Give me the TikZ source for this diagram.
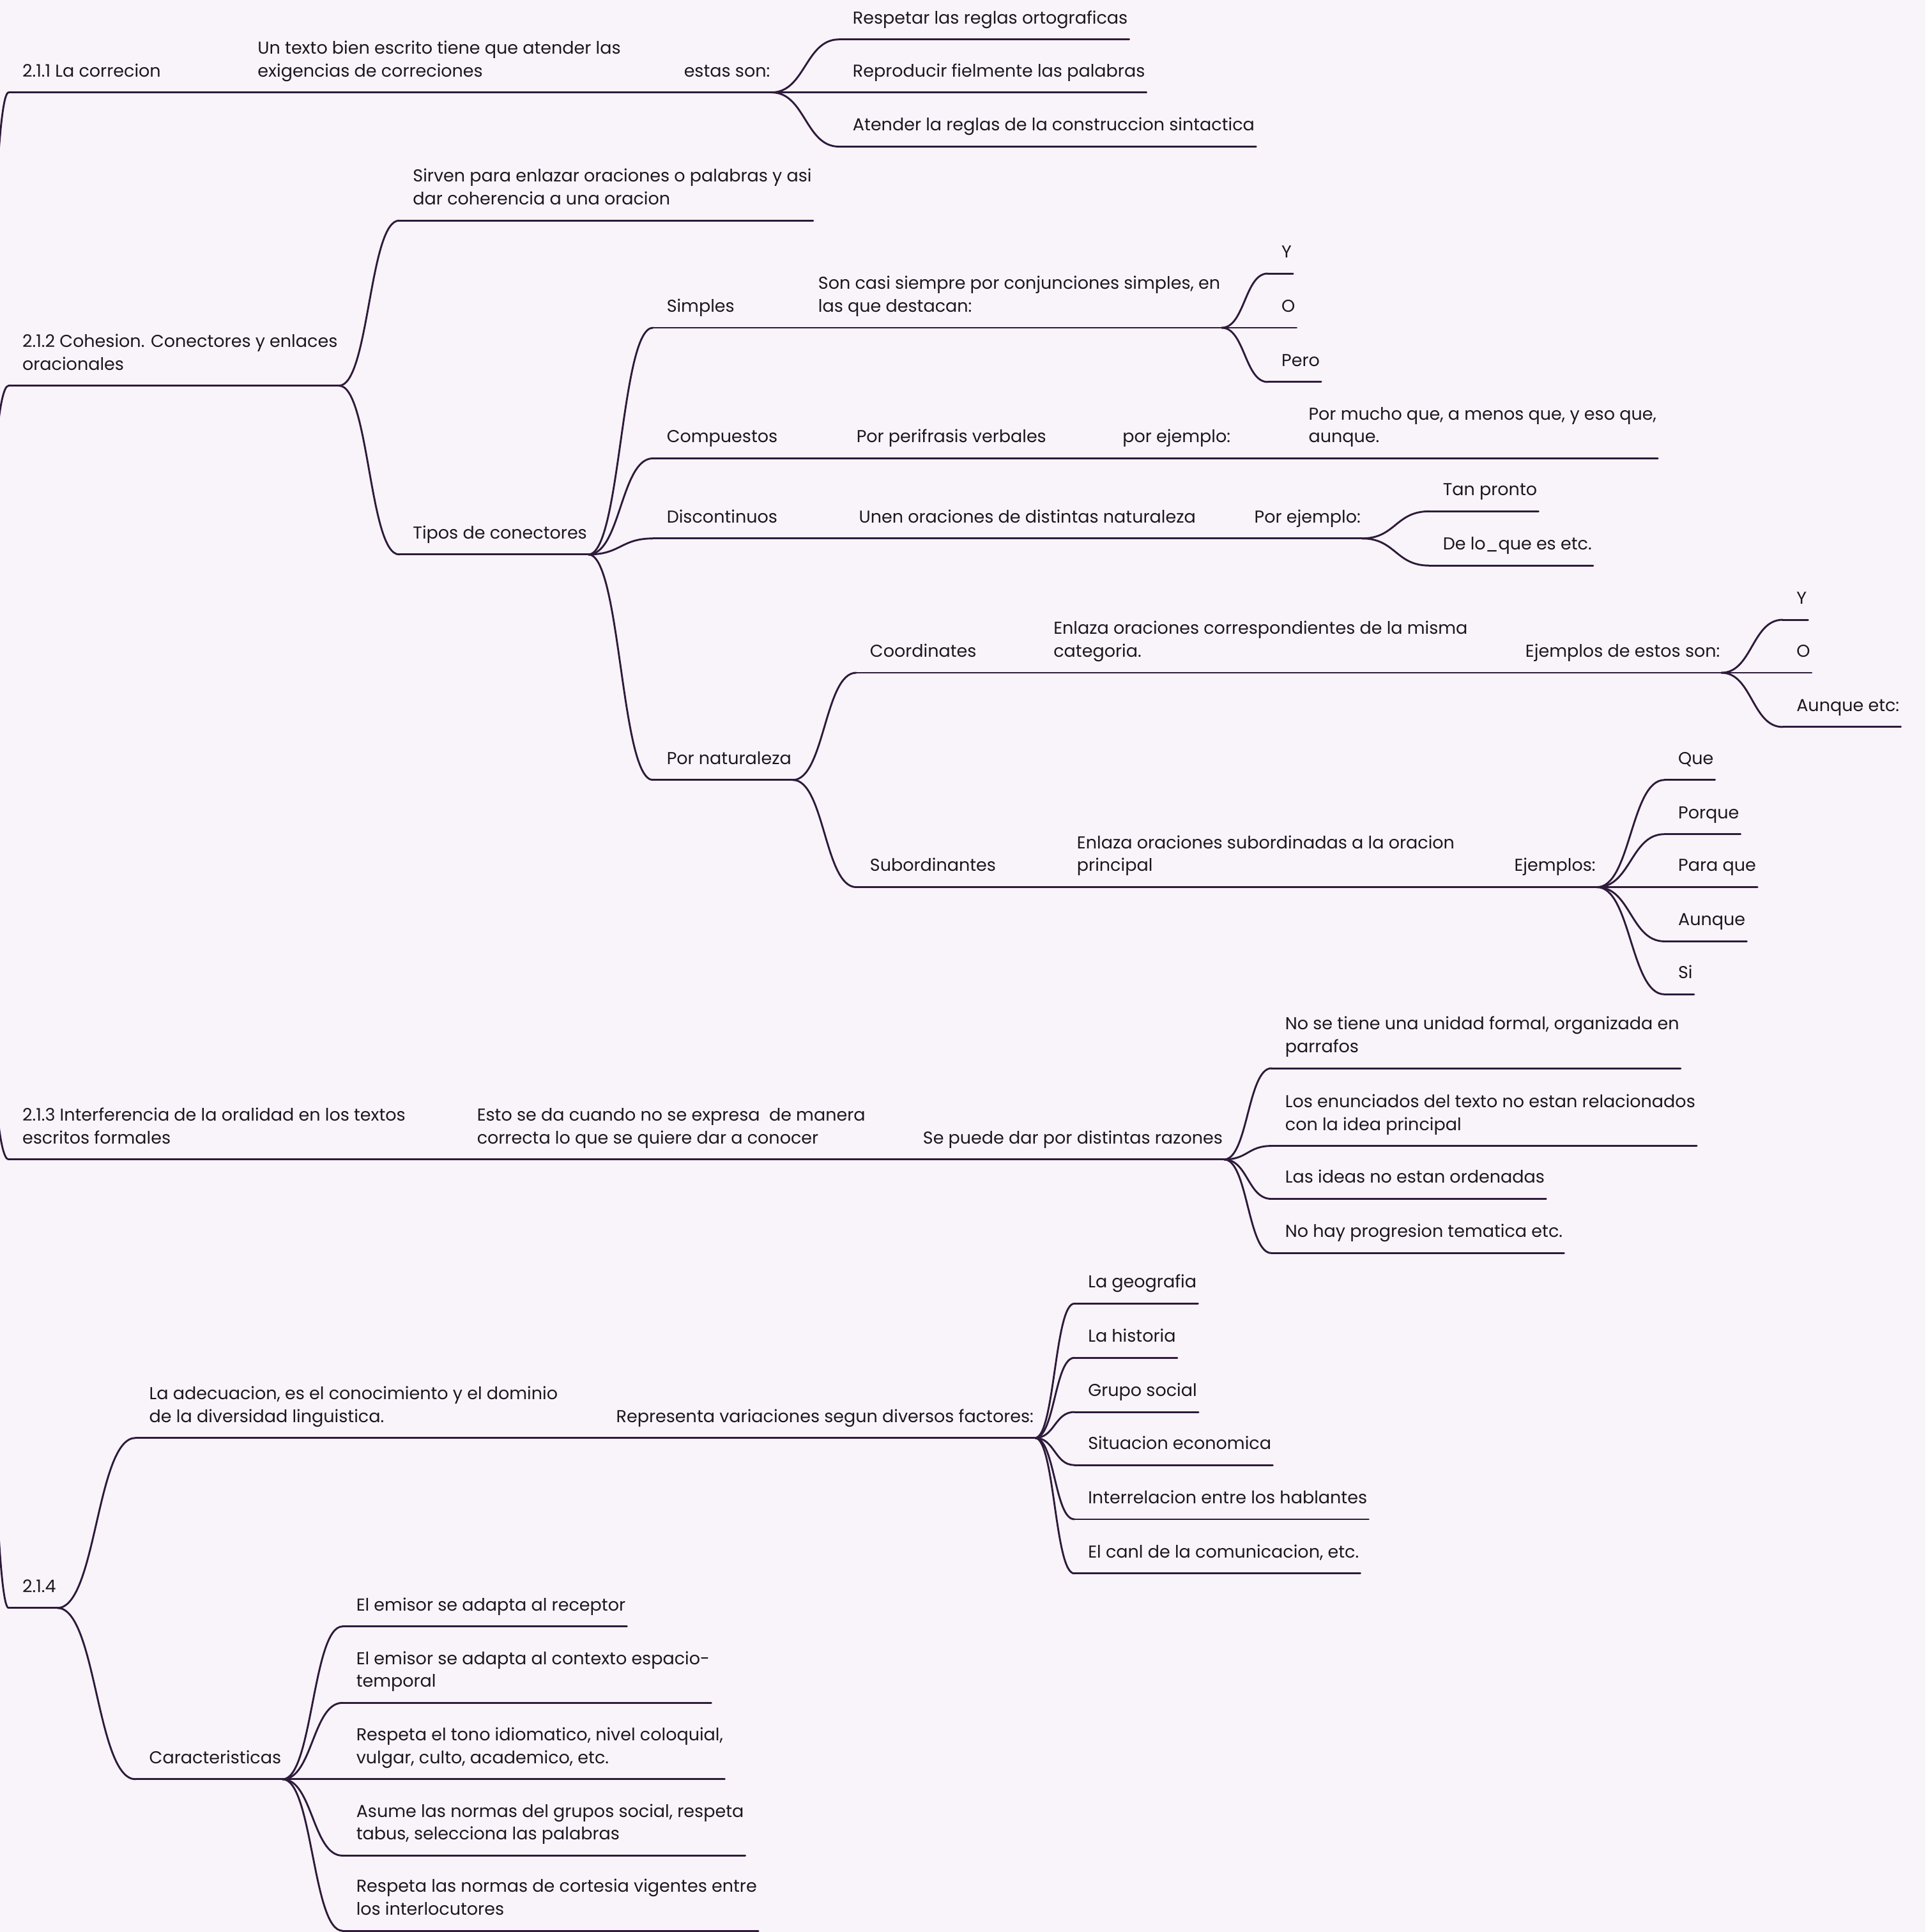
\documentclass[tikz,border=0pt]{standalone}
\usepackage{fontspec}
\setmainfont{Poppins}
\usepackage{xcolor}
\definecolor{mapbg}{RGB}{248, 244, 250}
\definecolor{mapline}{RGB}{46, 26, 58}
\definecolor{mapink}{RGB}{28, 22, 30}
\usepackage{tikz}
\usetikzlibrary{calc}
\tikzstyle{topic} = [
    anchor=south west,
    xshift=11pt,
    yshift=7pt,
    inner sep=0pt,
    align=left,
    text=mapink,
    font=\fontsize{14}{18.5}\selectfont,
    execute at end node=\strut
]
\tikzstyle{link} = [
    draw=mapline,
    line width=1.5pt,
    line cap=round
]

\begin{document}
\begin{tikzpicture}[x=1pt, y=-1pt]

\useasboundingbox[fill=mapbg] (0,0) rectangle (1563,1568);
\clip (0,0) rectangle (1563,1568);

\coordinate (root) at (-28,627);

% 2.1.1
\node[topic] (corr) at (7,75) {2.1.1 La correcion};
\node[topic] (corrdef) at (198,75)
    {Un texto bien escrito tiene que atender las\\exigencias de correciones};
\node[topic] (estas) at (544,75) {estas son:};
\node[topic] (reglas) at (681,32) {Respetar las reglas ortograficas};
\node[topic] (reprod) at (681,75) {Reproducir fielmente las palabras};
\node[topic] (atender) at (681,119) {Atender la reglas de la construccion sintactica};

% 2.1.2
\node[topic] (cohes) at (7,313) {2.1.2 Cohesion. Conectores y enlaces\\oracionales};
\node[topic] (sirven) at (324,179)
    {Sirven para enlazar oraciones o palabras y asi\\dar coherencia a una oracion};
\node[topic] (tipos) at (324,450) {Tipos de conectores};

\node[topic] (simples) at (530,266) {Simples};
\node[topic] (simdef) at (653,266)
    {Son casi siempre por conjunciones simples, en\\las que destacan:};
\node[topic] (sy) at (1029,222) {Y};
\node[topic] (so) at (1029,266) {O};
\node[topic] (spero) at (1029,310) {Pero};

\node[topic] (comp) at (530,372) {Compuestos};
\node[topic] (compdef) at (684,372) {Por perifrasis verbales};
\node[topic] (compej) at (900,372) {por ejemplo:};
\node[topic] (complist) at (1051,372) {Por mucho que, a menos que, y eso que,\\aunque.};

\node[topic] (disc) at (530,437) {Discontinuos};
\node[topic] (discdef) at (686,437) {Unen oraciones de distintas naturaleza};
\node[topic] (discej) at (1007,437) {Por ejemplo:};
\node[topic] (tanpronto) at (1160,415) {Tan pronto};
\node[topic] (delo) at (1160,459) {De lo\_que es etc.};

\node[topic] (natur) at (530,633) {Por naturaleza};
\node[topic] (coord) at (695,546) {Coordinates};
\node[topic] (coorddef) at (844,546)
    {Enlaza oraciones correspondientes de la misma\\categoria.};
\node[topic] (coordej) at (1227,546) {Ejemplos de estos son:};
\node[topic] (cy) at (1447,503) {Y};
\node[topic] (co) at (1447,546) {O};
\node[topic] (caunque) at (1447,590) {Aunque etc:};

\node[topic] (subord) at (695,720) {Subordinantes};
\node[topic] (subdef) at (863,720) {Enlaza oraciones subordinadas a la oracion\\principal};
\node[topic] (subej) at (1218,720) {Ejemplos:};
\node[topic] (sque) at (1351,633) {Que};
\node[topic] (sporque) at (1351,677) {Porque};
\node[topic] (sparaque) at (1351,720) {Para que};
\node[topic] (saunque) at (1351,764) {Aunque};
\node[topic] (ssi) at (1351,807) {Si};

% 2.1.3
\node[topic] (inter) at (7,941)
    {2.1.3 Interferencia de la oralidad en los textos\\escritos formales};
\node[topic] (interdef) at (376,941)
    {Esto se da cuando no se expresa\ \ de manera\\correcta lo que se quiere dar a conocer};
\node[topic] (razones) at (738,941) {Se puede dar por distintas razones};
\node[topic] (raz1) at (1032,867) {No se tiene una unidad formal, organizada en\\parrafos};
\node[topic] (raz2) at (1032,930)
    {Los enunciados del texto no estan relacionados\\con la idea principal};
\node[topic] (raz3) at (1032,973) {Las ideas no estan ordenadas};
\node[topic] (raz4) at (1032,1017) {No hay progresion tematica etc.};

% 2.1.4
\node[topic] (adec) at (7,1305) {2.1.4};
\node[topic] (adecdef) at (110,1167)
    {La adecuacion, es el conocimiento y el dominio\\de la diversidad linguistica.};
\node[topic] (factores) at (489,1167) {Representa variaciones segun diversos factores:};
\node[topic] (fac1) at (872,1058) {La geografia};
\node[topic] (fac2) at (872,1102) {La historia};
\node[topic] (fac3) at (872,1146) {Grupo social};
\node[topic] (fac4) at (872,1189) {Situacion economica};
\node[topic] (fac5) at (872,1233) {Interrelacion entre los hablantes};
\node[topic] (fac6) at (872,1277) {El canl de la comunicacion, etc.};

\node[topic] (caract) at (110,1444) {Caracteristicas};
\node[topic] (car1) at (278,1320) {El emisor se adapta al receptor};
\node[topic] (car2) at (278,1382) {El emisor se adapta al contexto espacio-\\temporal};
\node[topic] (car3) at (278,1444)
    {Respeta el tono idiomatico, nivel coloquial,\\vulgar, culto, academico, etc.};
\node[topic] (car4) at (278,1506)
    {Asume las normas del grupos social, respeta\\tabus, selecciona las palabras};
\node[topic] (car5) at (278,1567)
    {Respeta las normas de cortesia vigentes entre\\los interlocutores};

% underlines
\foreach \t in {corr, corrdef, estas, reglas, reprod, atender,
    cohes, sirven, tipos, simples, simdef, sy, so, spero,
    comp, compdef, compej, complist, disc, discdef, discej, tanpronto, delo,
    natur, coord, coorddef, coordej, cy, co, caunque,
    subord, subdef, subej, sque, sporque, sparaque, saunque, ssi,
    inter, interdef, razones, raz1, raz2, raz3, raz4,
    adec, adecdef, factores, fac1, fac2, fac3, fac4, fac5, fac6,
    caract, car1, car2, car3, car4, car5}
  \draw[link] ([xshift=-11pt,yshift=-7pt]\t.south west)
    -- ([xshift=1pt,yshift=-7pt]\t.south east);

% branches from the central topic
\foreach \b in {corr, cohes, inter, adec}
  \draw[link] let \p1=(root), \p2=([xshift=-11pt,yshift=-7pt]\b.south west) in
    (\p1) .. controls ({(\x1+\x2)/2},\y1) and ({(\x1+\x2)/2},\y2) .. (\p2);

% branches between topics
\foreach \a/\b in {corr/corrdef, corrdef/estas, estas/reglas, estas/reprod, estas/atender,
    cohes/sirven, cohes/tipos, tipos/simples, tipos/comp, tipos/disc, tipos/natur,
    simples/simdef, simdef/sy, simdef/so, simdef/spero,
    comp/compdef, compdef/compej, compej/complist,
    disc/discdef, discdef/discej, discej/tanpronto, discej/delo,
    natur/coord, natur/subord, coord/coorddef, coorddef/coordej,
    coordej/cy, coordej/co, coordej/caunque,
    subord/subdef, subdef/subej, subej/sque, subej/sporque, subej/sparaque,
    subej/saunque, subej/ssi,
    inter/interdef, interdef/razones, razones/raz1, razones/raz2, razones/raz3, razones/raz4,
    adec/adecdef, adec/caract, adecdef/factores,
    factores/fac1, factores/fac2, factores/fac3, factores/fac4, factores/fac5, factores/fac6,
    caract/car1, caract/car2, caract/car3, caract/car4, caract/car5}
  \draw[link] let \p1=([xshift=1pt,yshift=-7pt]\a.south east),
                  \p2=([xshift=-11pt,yshift=-7pt]\b.south west) in
    (\p1) .. controls ({(\x1+\x2)/2},\y1) and ({(\x1+\x2)/2},\y2) .. (\p2);

\end{tikzpicture}
\end{document}
